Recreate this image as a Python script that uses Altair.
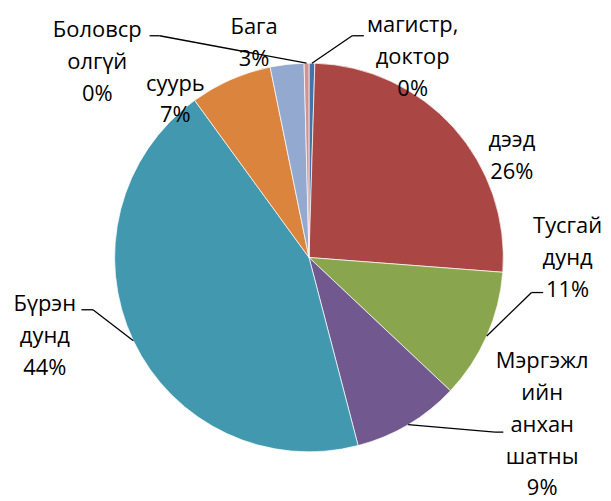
import altair as alt
import pandas as pd

# ---- data ----
categories = ["магистр, доктор", "дээд", "Тусгай дунд", "Мэргэжлийн анхан шатны",
              "Бүрэн дунд", "суурь", "Бага", "Боловсролгүй"]
label_names = ["магистр,\nдоктор", "дээд", "Тусгай\nдунд", "Мэргэжл\nийн\nанхан\nшатны",
               "Бүрэн\nдунд", "суурь", "Бага", "Боловср\nолгүй"]
values = [0.48, 25.7, 10.8, 8.9, 44.0, 6.8, 2.8, 0.4]
colors = ["#4572A7", "#AA4643", "#89A54E", "#71588F",
          "#4198AF", "#DB843D", "#93A9CF", "#D19392"]

# ---- label layout (offsets in px from each slice's outer edge midpoint) ----
label_dx = [101.1, 58.5, 81.1, 134.5, -88.8, -55.4, -33.0, -210.0]
label_dy = [-30.8, 19.6, -103.3, -56.9, -29.3, 10.9, -30.4, -25.8]
has_leader = [1, 0, 1, 1, 1, 0, 0, 1]
elbow_dx = [-60.7, 0, -36.2, -47.3, 48.3, 0, 0, 62.5]
elbow_dy = [3.3, 0, 59.7, 64.4, -1.7, 0, 0, -1.7]
end_dx = [-49.0, 0, -24.5, -39.0, 36.7, 0, 0, 52.5]

CX, CY, R = 302, 249.5, 195
FONT = "Open Sans"
FS = 22
LH = 32

df = pd.DataFrame({
    "cat": categories,
    "name": label_names,
    "value": values,
    "order": list(range(len(categories))),
    "ldx": label_dx,
    "ldy": label_dy,
    "leader": has_leader,
    "edx": elbow_dx,
    "edy": elbow_dy,
    "tdx": end_dx,
})

base = alt.Chart(df).transform_joinaggregate(
    total="sum(value)"
).transform_window(
    cum="sum(value)", sort=[alt.SortField("order")], frame=[None, 0]
).transform_calculate(
    mid="(datum.cum - datum.value/2) / datum.total * 2 * PI",
).transform_calculate(
    ex=f"{CX} + {R} * sin(datum.mid)",
    ey=f"{CY} - {R} * cos(datum.mid)",
).transform_calculate(
    lx="datum.ex + datum.ldx",
    ly="datum.ey + datum.ldy",
    label="datum.name + '\\n' + format(datum.value / datum.total, '.0%')",
).transform_calculate(
    bx="datum.lx + datum.edx",
    by="datum.ly + datum.edy",
    tx="datum.lx + datum.tdx",
)

pie = alt.Chart(df).mark_arc(outerRadius=R, stroke="white", strokeWidth=0.7).encode(
    theta=alt.Theta("value:Q", stack=True),
    color=alt.Color("cat:N", scale=alt.Scale(domain=categories, range=colors), legend=None),
    order=alt.Order("order:Q"),
    x=alt.value(CX),
    y=alt.value(CY),
)

leaders = base.transform_filter("datum.leader == 1")
diag = leaders.mark_rule(color="black", strokeWidth=1.3).encode(
    x=alt.X("ex:Q", scale=None, axis=None),
    y=alt.Y("ey:Q", scale=None, axis=None),
    x2="bx:Q",
    y2="by:Q",
)
horiz = leaders.mark_rule(color="black", strokeWidth=1.3).encode(
    x=alt.X("bx:Q", scale=None, axis=None),
    y=alt.Y("by:Q", scale=None, axis=None),
    x2="tx:Q",
    y2="by:Q",
)

labels = base.mark_text(
    font=FONT, fontSize=FS, lineBreak="\n", lineHeight=LH,
    align="center", baseline="alphabetic", color="black",
).encode(
    x=alt.X("lx:Q", scale=None, axis=None),
    y=alt.Y("ly:Q", scale=None, axis=None),
    text="label:N",
)

chart = alt.layer(pie, diag, horiz, labels).properties(
    width=597, height=493, padding=0, autosize="none", background="white"
).configure_view(stroke=None)

chart.save("out.html", embed_options={"renderer": "svg", "actions": False})
